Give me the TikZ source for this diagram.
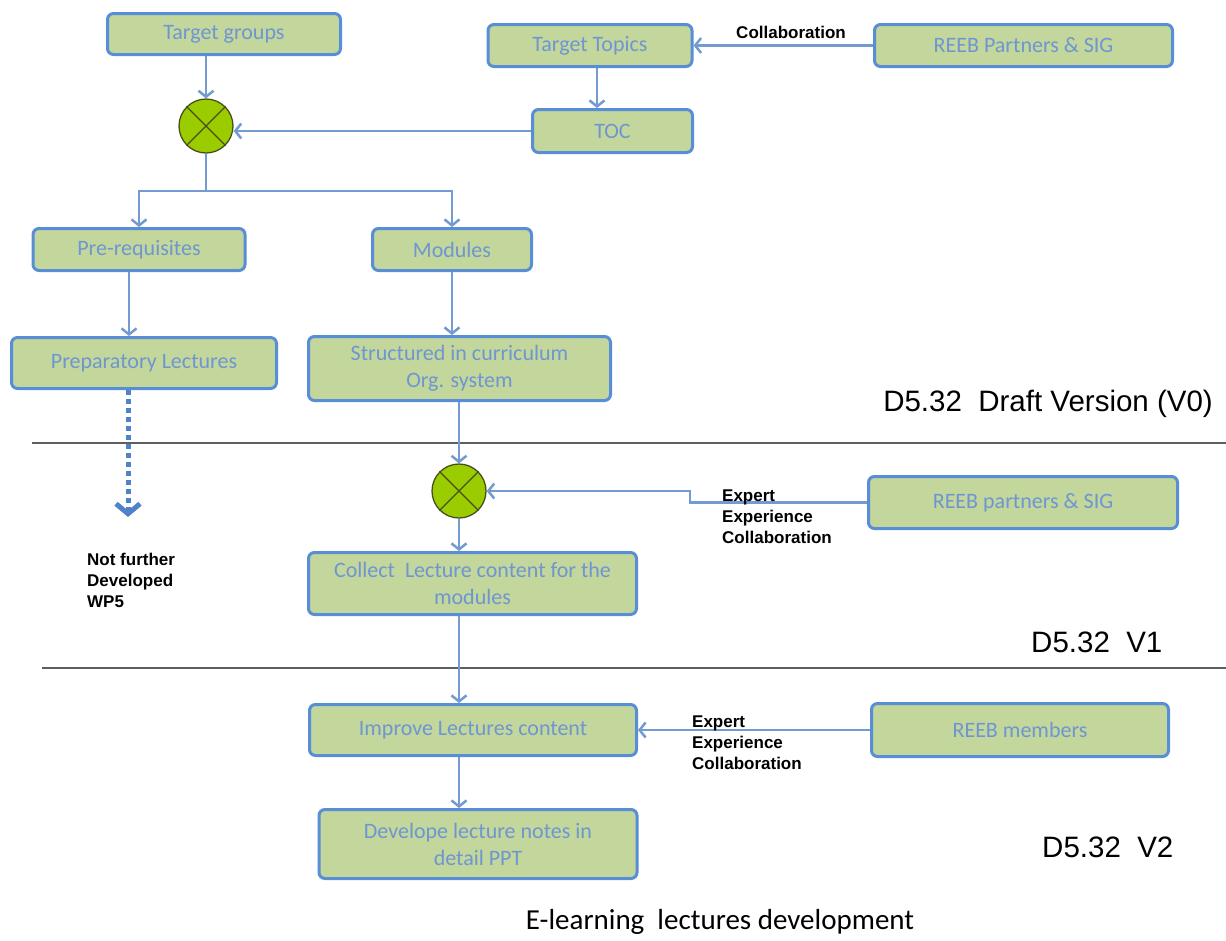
\documentclass[tikz,border=0pt]{standalone}
\usepackage{fontspec}
\setmainfont{Carlito}
\newfontfamily\arialfont{Liberation Sans}
\usetikzlibrary{arrows.meta}
\definecolor{boxfill}{RGB}{195,214,155}
\definecolor{boxdraw}{RGB}{88,142,214}
\definecolor{boxtext}{RGB}{110,150,210}
\definecolor{conn}{RGB}{115,155,210}
\definecolor{dashblue}{RGB}{80,130,200}
\definecolor{circfill}{RGB}{155,204,0}
\definecolor{circdraw}{RGB}{70,80,30}
\definecolor{sepgray}{RGB}{95,95,95}
\tikzset{
  box/.style={draw=boxdraw, line width=3pt, fill=boxfill, rounded corners=6pt,
    text=boxtext, font=\fontsize{22}{27}\selectfont, align=center, inner sep=0pt},
  conline/.style={draw=conn, line width=2.5pt},
  arr/.style={conline, -{Straight Barb[length=6pt,width=15pt]}},
  dasharr/.style={draw=dashblue, line width=5pt, dash pattern=on 5pt off 4pt,
    -{Straight Barb[length=10pt,width=24pt]}},
  merge/.style={circle, draw=circdraw, fill=circfill, line width=1.3pt,
    minimum size=54pt, inner sep=0pt},
  lab/.style={font=\arialfont\bfseries\fontsize{17}{21}\selectfont, align=left, text=black, inner sep=0pt},
  ver/.style={font=\arialfont\fontsize{29.5}{34}\selectfont, text=black, inner sep=0pt},
  sep/.style={draw=sepgray, line width=2.5pt}
}
\begin{document}
\begin{tikzpicture}[x=1pt,y=-1pt]
\useasboundingbox (0,0) rectangle (1226,940);
% boxes
\node[box, minimum width=233pt, minimum height=41pt] (tg) at (224,34) {Target groups};
\node[box, minimum width=204pt, minimum height=42pt] (tt) at (590,45.5) {Target Topics};
\node[box, minimum width=298pt, minimum height=42pt] (rp1) at (1023.5,45.5) {REEB Partners \& SIG};
\node[box, minimum width=160pt, minimum height=43pt] (toc) at (612.5,131) {TOC};
\node[box, minimum width=212pt, minimum height=42pt] (pre) at (139,249.5) {Pre-requisites};
\node[box, minimum width=159pt, minimum height=42pt] (mod) at (452,249.5) {Modules};
\node[box, minimum width=265pt, minimum height=51pt] (prep) at (144,363) {Preparatory Lectures};
\node[box, minimum width=302pt, minimum height=64pt] (struct) at (459.5,368.5) {Structured in curriculum\\Org. system};
\node[box, minimum width=309pt, minimum height=52pt] (rp2) at (1023,502.5) {REEB partners \& SIG};
\node[box, minimum width=328pt, minimum height=62pt] (collect) at (472.5,583.5) {Collect\ \ Lecture content for the\\modules};
\node[box, minimum width=327pt, minimum height=51pt] (improve) at (473,730) {Improve Lectures content};
\node[box, minimum width=297pt, minimum height=53pt] (rmem) at (1020,730) {REEB members};
\node[box, minimum width=318pt, minimum height=69pt] (devel) at (478,844) {Develope lecture notes in\\detail PPT};
% merge circles
\node[merge] (c1) at (206,126) {};
\draw[circdraw, line width=1.3pt] (c1.north west) -- (c1.south east) (c1.north east) -- (c1.south west);
\node[merge] (c2) at (459,491) {};
\draw[circdraw, line width=1.3pt] (c2.north west) -- (c2.south east) (c2.north east) -- (c2.south west);
% separators
\draw[sep] (32,443) -- (1226,443);
\draw[sep] (42,668) -- (1226,668);
% connectors
\draw[arr] (tg.south -| c1) -- (c1.north);
\draw[arr] (rp1.west) -- (tt.east);
\draw[arr] ([xshift=7pt]tt.south) -- ([xshift=7pt]tt.south |- toc.north);
\draw[arr] (toc.west) -- (toc.west -| c1.east);
\coordinate (split) at (206,191);
\draw[conline] (c1.south) -- (split);
\draw[arr] (split) -| (pre.north);
\draw[arr] (split) -| (mod.north);
\draw[arr] ([xshift=-10pt]pre.south) -- ([xshift=-10pt]pre.south |- prep.north);
\draw[arr] (mod.south) -- (mod.south |- struct.north);
\coordinate (nf) at (128,517);
\draw[dasharr] (prep.south -| nf) -- (nf);
\draw[arr] (c2 |- struct.south) -- (c2.north);
\coordinate (elb) at (690,502.5);
\draw[arr] (rp2.west) -- (elb) |- (c2.east);
\draw[arr] (c2.south) -- (c2.south |- collect.north);
\draw[arr] (c2 |- collect.south) -- (c2 |- improve.north);
\draw[arr] (rmem.west) -- (improve.east);
\draw[arr] (c2 |- improve.south) -- (c2 |- devel.north);
% labels
\node[lab, anchor=center] (lcol) at (791,32) {Collaboration};
\node[lab, anchor=west] (lexp1) at (722,517) {Expert\\Experience\\Collaboration};
\node[lab, anchor=west] (lexp2) at (692,743) {Expert\\Experience\\Collaboration};
\node[lab, anchor=west] (lnot) at (87,580) {Not further\\Developed\\WP5};
\node[ver, anchor=base east] (v0) at (1213,411) {D5.32\ \ Draft Version (V0)};
\node[ver, anchor=base west] (v1) at (1031,652) {D5.32\ \ V1};
\node[ver, anchor=base west] (v2) at (1042,857) {D5.32\ \ V2};
\node[font=\fontsize{29}{34}\selectfont, text=black] (title) at (720,922) {E-learning\ \ lectures development};
\end{tikzpicture}
\end{document}
